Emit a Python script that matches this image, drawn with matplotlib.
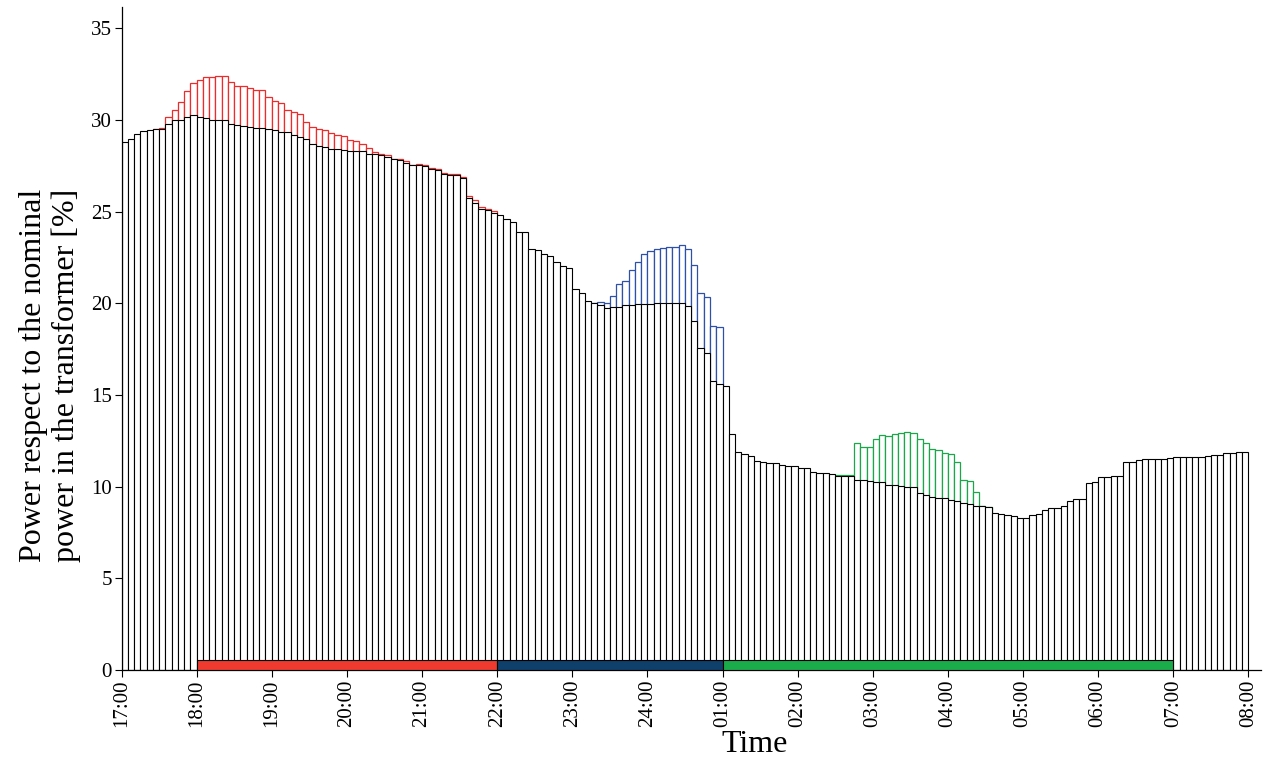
import numpy as np
import matplotlib
matplotlib.use("Agg")
import matplotlib.pyplot as plt

# potencia respecto a la nominal del transformador [%], intervalos de 5 min desde las 17:00
base = [28.8, 28.96, 29.23, 29.43, 29.47, 29.49, 29.5, 29.8, 29.98, 29.98,
        30.18, 30.27, 30.18, 30.09, 30.03, 30.0, 30.0, 29.76, 29.72, 29.67,
        29.63, 29.58, 29.58, 29.53, 29.45, 29.36, 29.33, 29.19, 29.1, 28.96,
        28.7, 28.57, 28.54, 28.41, 28.41, 28.35, 28.3, 28.3, 28.3, 28.17,
        28.17, 28.12, 27.99, 27.86, 27.81, 27.68, 27.53, 27.53, 27.48, 27.35,
        27.3, 27.08, 26.99, 26.99, 26.84, 25.75, 25.49, 25.16, 25.07, 24.94,
        24.8, 24.58, 24.43, 23.92, 23.92, 22.98, 22.92, 22.69, 22.58, 22.28,
        22.03, 21.92, 20.79, 20.55, 20.11, 20.0, 19.91, 19.73, 19.82, 19.82,
        19.91, 19.91, 19.95, 19.95, 19.95, 20.0, 20.0, 20.0, 20.04, 20.04,
        19.87, 19.05, 17.54, 17.32, 15.74, 15.63, 15.47, 12.86, 11.89, 11.8,
        11.67, 11.4, 11.36, 11.27, 11.27, 11.21, 11.12, 11.12, 11.03, 11.03,
        10.81, 10.76, 10.76, 10.72, 10.57, 10.57, 10.57, 10.39, 10.34, 10.3,
        10.25, 10.25, 10.12, 10.07, 10.03, 9.99, 9.99, 9.63, 9.56, 9.43,
        9.39, 9.39, 9.3, 9.21, 9.12, 9.08, 8.93, 8.93, 8.88, 8.57,
        8.5, 8.44, 8.39, 8.28, 8.28, 8.44, 8.5, 8.72, 8.86, 8.86,
        8.97, 9.23, 9.32, 9.32, 10.21, 10.27, 10.54, 10.54, 10.61, 10.61,
        11.36, 11.36, 11.43, 11.49, 11.49, 11.49, 11.49, 11.54, 11.6, 11.6,
        11.6, 11.6, 11.6, 11.67, 11.74, 11.74, 11.83, 11.83, 11.89, 11.89]

# cargas desplazadas (primer indice de cada tramo y sus valores)
red_start = 5
red_vals = [29.5, 29.55, 30.18, 30.54, 31.0, 31.58, 32.0, 32.2, 32.33, 32.33,
            32.38, 32.38, 32.1, 31.88, 31.88, 31.73, 31.64, 31.64, 31.27, 31.03,
            30.96, 30.54, 30.42, 30.32, 29.9, 29.63, 29.5, 29.45, 29.32, 29.17,
            29.12, 28.9, 28.85, 28.67, 28.48, 28.27, 28.14, 28.1, 27.88, 27.86,
            27.77, 27.55, 27.59, 27.53, 27.41, 27.35, 27.13, 27.04, 27.04, 26.9,
            25.86, 25.62, 25.25, 25.16, 25.02]
blue_start = 75
blue_vals = [20.02, 20.09, 20.0, 20.39, 21.06, 21.21, 21.84, 22.25, 22.69, 22.85,
             22.96, 23.03, 23.1, 23.1, 23.16, 22.96, 22.1, 20.59, 20.37, 18.78,
             18.69]
green_start = 114
green_vals = [10.63, 10.63, 10.63, 12.36, 12.16, 12.16, 12.62, 12.82, 12.76, 12.89,
              12.91, 13.0, 12.95, 12.62, 12.36, 12.07, 12.0, 11.85, 11.8, 11.34,
              10.36, 10.3, 9.72, 8.95, 8.9]

# franjas horarias (horas desde las 0:00 del primer dia)
band_start = [18, 22, 25]
band_end = [22, 25, 31]
band_colors = ['#ef3a2f', '#0f3f6b', '#1aab4b']

tick_hours = list(range(17, 33))
tick_labels = ['17:00', '18:00', '19:00', '20:00', '21:00', '22:00', '23:00', '24:00',
               '01:00', '02:00', '03:00', '04:00', '05:00', '06:00', '07:00', '08:00']

plt.rcParams['font.family'] = ['Liberation Serif', 'DejaVu Serif']

fig = plt.figure(figsize=(12.65, 7.66), dpi=100)
ax = fig.add_axes([121.5/1265, 96/766, (1261-121.5)/1265, (670-7)/766])

dt = 1/12
t = 17 + np.arange(len(base))*dt

for start, vals, col in [(red_start, red_vals, '#ee2b2b'),
                         (blue_start, blue_vals, '#2d50a8'),
                         (green_start, green_vals, '#1ca64c')]:
    tt = 17 + (start + np.arange(len(vals)))*dt
    ax.bar(tt, vals, width=dt, align='edge', facecolor='white',
           edgecolor=col, linewidth=0.9, zorder=1)

ax.bar(t, base, width=dt, align='edge', facecolor='white',
       edgecolor='black', linewidth=0.8, zorder=2)

for s, e, c in zip(band_start, band_end, band_colors):
    ax.bar(s, 0.55, width=e-s, align='edge', facecolor=c,
           edgecolor='black', linewidth=0.8, zorder=3)

ax.set_xlim(17, 17 + (1261-121.5)/75.13)
ax.set_ylim(0, (670-7)/18.33)
ax.set_xticks(tick_hours)
ax.set_xticklabels(tick_labels, rotation=90)
ax.set_yticks(range(0, 36, 5))
ax.tick_params(direction='out', length=5, width=0.8, labelsize=15, pad=2)
for s in ['top', 'right']:
    ax.spines[s].set_visible(False)
for s in ['left', 'bottom']:
    ax.spines[s].set_linewidth(0.9)

fig.text(50/1265, 1-375/766, 'Power respect to the nominal\npower in the transformer [%]',
         rotation=90, ha='center', va='center', multialignment='center',
         fontsize=23, linespacing=1.15)
fig.text(755/1265, 1-745/766, 'Time', ha='center', va='center', fontsize=23)

fig.savefig('out.png', dpi=100)
